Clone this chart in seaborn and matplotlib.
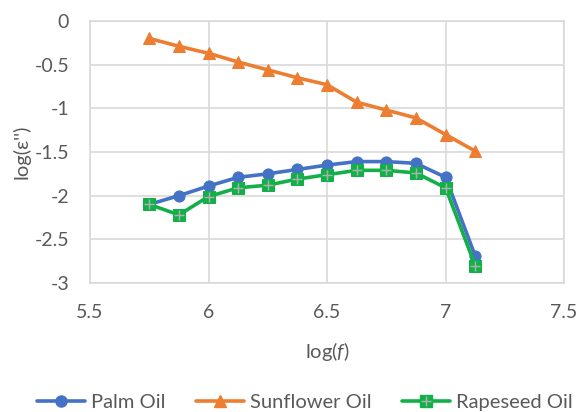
import numpy as np
import pandas as pd
import matplotlib
matplotlib.use("Agg")
import matplotlib.pyplot as plt
import seaborn as sns
from matplotlib.lines import Line2D

# Values
log_f = [5.75, 5.875, 6.0, 6.125, 6.25, 6.375, 6.5, 6.625, 6.75, 6.875, 7.0, 7.125]
palm = [-2.10, -2.00, -1.89, -1.79, -1.75, -1.70, -1.65, -1.61, -1.61, -1.63, -1.79, -2.69]
sunflower = [-0.20, -0.29, -0.37, -0.47, -0.56, -0.65, -0.73, -0.93, -1.02, -1.11, -1.30, -1.49]
rapeseed = [-2.10, -2.22, -2.01, -1.91, -1.88, -1.81, -1.76, -1.71, -1.71, -1.74, -1.91, -2.80]

series_names = ["Palm Oil", "Sunflower Oil", "Rapeseed Oil"]
colors = ["#4472C4", "#ED7D31", "#13B04A"]
markers = ["o", "^", "s"]

x_ticks = [5.5, 6, 6.5, 7, 7.5]
y_ticks = [0, -0.5, -1, -1.5, -2, -2.5, -3]

df = pd.DataFrame({
    "log_f": log_f * 3,
    "value": palm + sunflower + rapeseed,
    "series": sum([[n] * len(log_f) for n in series_names], []),
})

sns.set_style("white")
plt.rcParams["font.family"] = ["Lato", "DejaVu Sans"]
plt.rcParams["mathtext.fontset"] = "custom"
plt.rcParams["mathtext.it"] = "Lato:italic"
plt.rcParams["mathtext.rm"] = "Lato"
text_col = "#595959"
grid_col = "#D9D9D9"

fig = plt.figure(figsize=(5.86, 4.12), dpi=100)
ax = fig.add_axes([0.1536, 0.3131, 0.809, 0.636])

for name, col, mk in zip(series_names, colors, markers):
    sub = df[df["series"] == name]
    sns.lineplot(data=sub, x="log_f", y="value", color=col, marker=mk,
                 markersize=8 if mk != "^" else 9, markeredgecolor=col,
                 linewidth=2.6, ax=ax, legend=False, zorder=3)

# grey cross inside the rapeseed squares
sub = df[df["series"] == "Rapeseed Oil"]
ax.plot(sub["log_f"], sub["value"], linestyle="none", marker="+",
        markersize=7, markeredgewidth=1.0, color="#B0B0B0", zorder=4)

ax.set_xlim(5.5, 7.5)
ax.set_ylim(-3, 0)
ax.set_xticks(x_ticks)
ax.set_xticklabels([f"{t:g}" for t in x_ticks])
ax.set_yticks(y_ticks)
ax.set_yticklabels([f"{t:g}" for t in y_ticks])
ax.grid(True, color=grid_col, linewidth=1.2)
for s in ax.spines.values():
    s.set_color(grid_col)
    s.set_linewidth(1.2)
ax.tick_params(axis="x", length=0, pad=15, labelsize=14, colors=text_col)
ax.tick_params(axis="y", length=0, pad=15, labelsize=14, colors=text_col)

ax.set_xlabel("log($\\it{f}$)", fontsize=14.5, color=text_col, labelpad=14)
ax.set_ylabel("log(\u03b5'')", fontsize=14.5, color=text_col, labelpad=3)

handles = []
for name, col, mk in zip(series_names, colors, markers):
    h = Line2D([0], [0], color=col, marker=mk, linewidth=2.6,
               markersize=8, markeredgecolor=col)
    if mk == "s":
        h = (h, Line2D([0], [0], linestyle="none", marker="+", markersize=7,
                       markeredgewidth=1.0, color="#B0B0B0"))
    handles.append(h)
fig.legend(handles=handles, labels=series_names, loc="center",
           bbox_to_anchor=(0.52, 0.024), ncol=3,
           frameon=False, fontsize=14.5, handlelength=2.4, handletextpad=0.3,
           columnspacing=1.5, labelcolor=text_col)

fig.savefig("out.png", dpi=100)
